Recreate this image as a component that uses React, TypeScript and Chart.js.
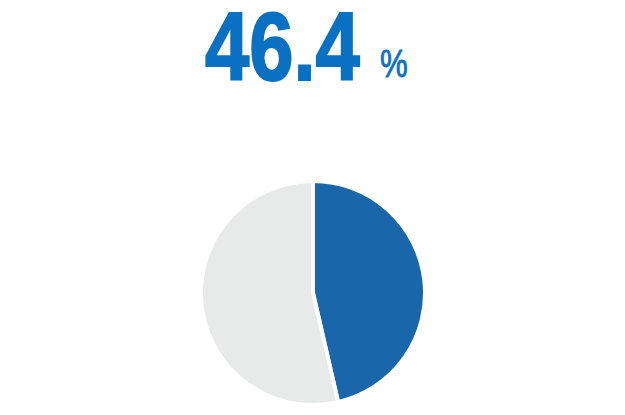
import { useEffect, useRef } from 'react';
import { Chart, registerables } from 'chart.js';

Chart.register(...registerables);

const labels = ['Share', 'Rest'];
const values = [46.4, 53.6];
const colors = ['#1966aa', '#e8e9e9'];
const headline = '46.4';

const App: React.FC = () => {
  const canvas = useRef<HTMLCanvasElement | null>(null);
  const chartRef = useRef<Chart | null>(null);

  useEffect(() => {
    const node = canvas.current;
    if (!node) {
      return;
    }

    if (chartRef.current) {
      chartRef.current.destroy();
    }

    chartRef.current = new Chart(node, {
      type: 'pie',
      data: {
        labels,
        datasets: [
          {
            data: values,
            backgroundColor: colors,
            borderColor: '#ffffff',
            borderWidth: 4
          }
        ]
      },
      options: {
        animation: false,
        responsive: true,
        maintainAspectRatio: false,
        layout: { padding: 0 },
        plugins: {
          legend: { display: false },
          tooltip: { enabled: false }
        }
      }
    });

    return () => {
      chartRef.current?.destroy();
      chartRef.current = null;
    };
  }, []);

  const font = '"Liberation Sans", Arial, sans-serif';

  return (
    <div>
      <div
        style={{
          position: 'absolute',
          left: 205,
          top: 0,
          fontFamily: font,
          fontWeight: 700,
          fontSize: 97,
          lineHeight: '93px',
          color: '#0a70c2',
          whiteSpace: 'nowrap',
          transform: 'scaleX(0.82)',
          transformOrigin: 'left top',
          WebkitTextStroke: '2px #0a70c2'
        }}
      >
        {headline}
      </div>
      <div
        style={{
          position: 'absolute',
          left: 380,
          top: 45,
          fontFamily: font,
          fontWeight: 400,
          fontSize: 38,
          lineHeight: 1,
          color: '#0a70c2',
          transform: 'scaleX(0.82)',
          transformOrigin: 'left top',
          WebkitTextStroke: '0.8px #0a70c2'
        }}
      >
        %
      </div>
      <div style={{ position: 'absolute', left: 199, top: 179, width: 228, height: 228 }}>
        <canvas ref={canvas} aria-label="Share pie chart" role="img" />
      </div>
    </div>
  );
};

export default App;
